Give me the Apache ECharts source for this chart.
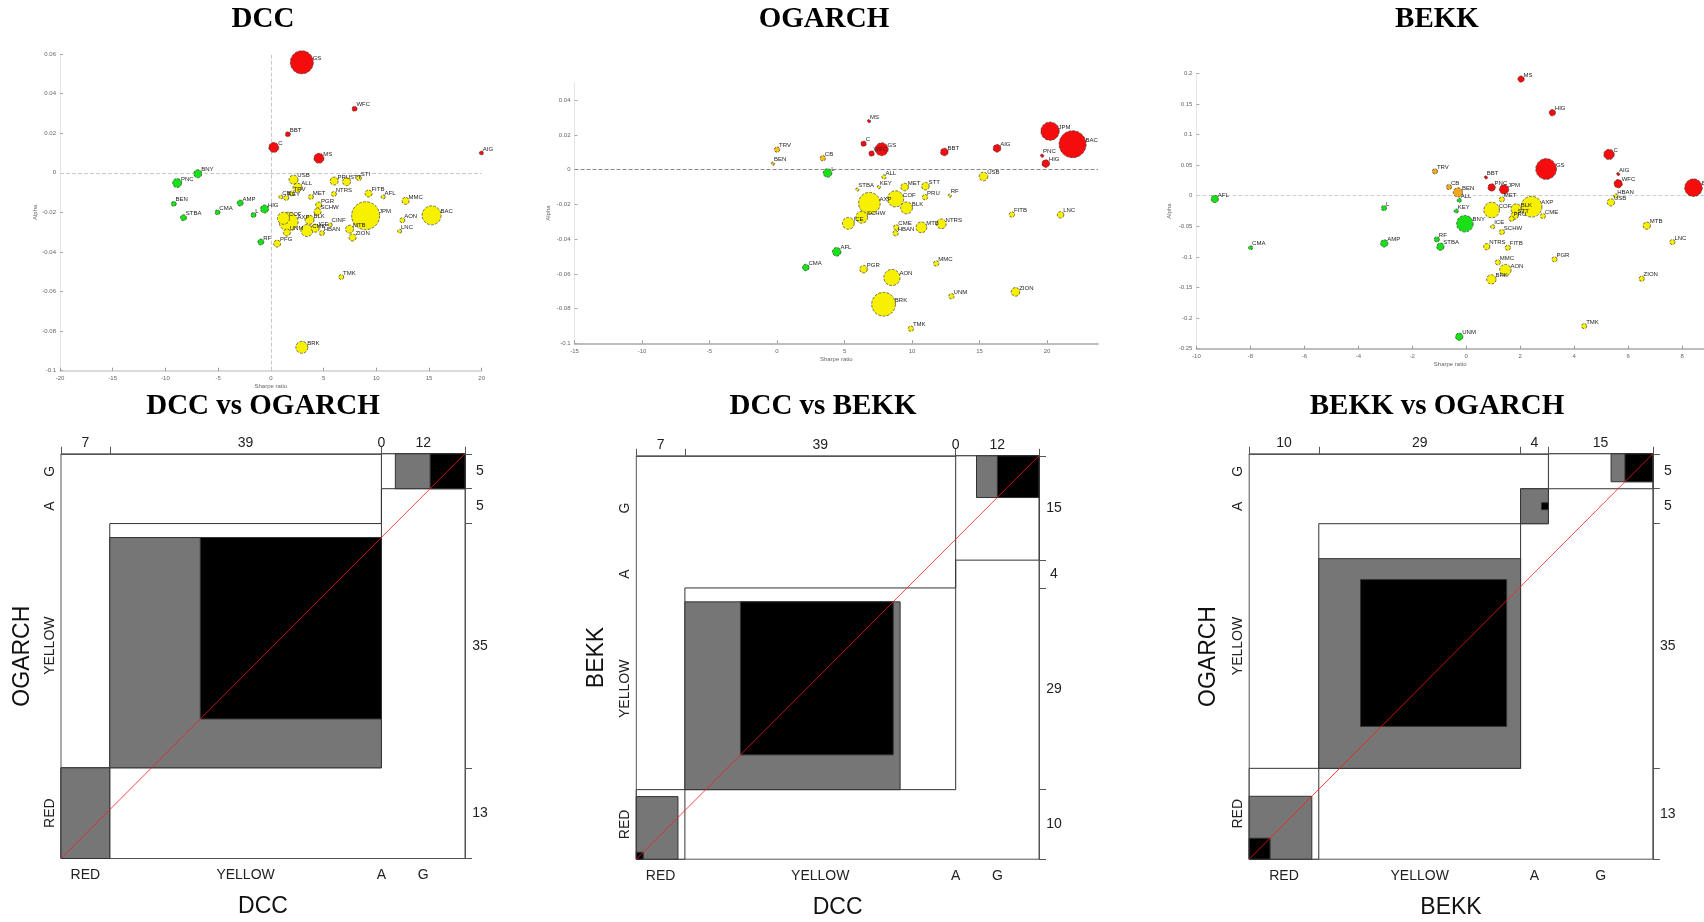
<!DOCTYPE html>
<html><head><meta charset="utf-8">
<script src="https://cdn.jsdelivr.net/npm/echarts@6/dist/echarts.min.js"></script>
<style>html,body{margin:0;padding:0;background:#fff}#c{width:1704px;height:922px}</style>
</head><body><div id="c"></div>
<script>
// ---------------- DATA: bubble plots  [x, y, size, label] ----------------
const dccRed = [[2.94,0.0558,23,'GS'],[7.94,0.0323,5,'WFC'],[1.61,0.0195,5,'BBT'],[0.28,0.0128,10,'C'],[4.56,0.0073,10,'MS'],[19.97,0.010,4,'AIG']];
const dccGreen = [[-6.93,-0.0005,8,'BNY'],[-8.89,-0.0052,9,'PNC'],[-9.21,-0.0157,5,'BEN'],[-8.29,-0.0227,6,'STBA'],[-5.06,-0.0200,5,'CMA'],[-2.91,-0.0153,6,'AMP'],[-1.65,-0.0213,5,'L'],[-0.60,-0.0183,8,'HIG'],[-0.95,-0.0350,6,'RF']];
const dccYellow = [[2.15,-0.0035,9,'USB'],[2.53,-0.0075,9,'ALL'],[1.99,-0.0105,5,'TRV'],[1.46,-0.0127,5,'KEY'],[0.95,-0.0122,4,'CB'],[3.80,-0.0122,5,'MET'],[6.01,-0.0042,8,'PRU'],[7.18,-0.0045,8,'STT'],[8.35,-0.0027,5,'STI'],[5.98,-0.0107,5,'NTRS'],[9.27,-0.0105,7,'FITB'],[10.66,-0.0122,4,'AFL'],[12.78,-0.0142,7,'MMC'],[8.99,-0.0217,28,'JPM'],[15.25,-0.0215,19,'BAC'],[12.47,-0.0240,5,'AON'],[12.22,-0.0295,4,'LNC'],[4.53,-0.0163,6,'PGR'],[4.43,-0.0197,7,'SCHW'],[1.68,-0.0247,19,'AXP'],[1.20,-0.0230,12,'COF'],[3.67,-0.0238,9,'BLK'],[3.42,-0.0292,12,'CME'],[4.21,-0.0280,8,'ICE'],[4.84,-0.0305,5,'HBAN'],[5.63,-0.0263,4,'CINF'],[7.47,-0.0285,8,'MTB'],[7.75,-0.0327,7,'ZION'],[1.52,-0.0302,7,'UNM'],[0.60,-0.0358,7,'PFG'],[6.68,-0.0527,5,'TMK'],[2.94,-0.0882,12,'BRK']];

const ogaRed = [[6.81,0.028,3,'MS'],[6.41,0.015,5,'C'],[7.00,0.0093,5,'WFC'],[7.75,0.0118,12,'GS'],[12.39,0.0102,7,'BBT'],[16.29,0.0123,7,'AIG'],[20.22,0.0222,17,'JPM'],[21.89,0.0147,25,'BAC'],[19.63,0.0081,3,'PNC'],[19.90,0.0035,7,'HIG']];
const ogaOrange = [[0.00,0.0116,5,'TRV'],[-0.30,0.0035,3,'BEN'],[3.39,0.0066,5,'CB']];
const ogaGreen = [[3.74,-0.0019,8,'L'],[4.42,-0.0473,8,'AFL'],[2.13,-0.0563,6,'CMA']];
const ogaYellow = [[7.92,-0.0042,4,'ALL'],[7.54,-0.0100,3,'KEY'],[5.95,-0.0114,3,'STBA'],[9.45,-0.0100,7,'MET'],[10.99,-0.0095,7,'STT'],[10.96,-0.0158,5,'PRU'],[12.79,-0.0149,3,'RF'],[15.29,-0.0039,8,'USB'],[6.84,-0.0193,20,'AXP'],[8.78,-0.0168,15,'COF'],[9.59,-0.0220,11,'BLK'],[6.27,-0.0274,11,'SCHW'],[5.28,-0.0309,11,'ICE'],[8.83,-0.0332,5,'CME'],[8.78,-0.0366,5,'HBAN'],[10.69,-0.0332,10,'MTB'],[12.17,-0.0312,9,'NTRS'],[17.39,-0.0258,5,'FITB'],[21.00,-0.0260,6,'LNC'],[11.79,-0.0540,5,'MMC'],[6.41,-0.0573,7,'PGR'],[8.51,-0.0621,15,'AON'],[7.89,-0.0775,22,'BRK'],[12.92,-0.0729,5,'UNM'],[17.66,-0.0704,8,'ZION'],[9.91,-0.0916,5,'TMK']];

const bekRed = [[2.03,0.1906,6,'MS'],[3.19,0.1356,6,'HIG'],[5.29,0.0675,10,'C'],[2.96,0.0436,20,'GS'],[5.63,0.0354,3,'AIG'],[5.63,0.0196,8,'WFC'],[0.73,0.0300,3,'BBT'],[0.94,0.0136,7,'PNC'],[1.40,0.0103,9,'JPM'],[8.42,0.0131,17,'BAC']];
const bekOrange = [[-1.16,0.0398,5,'TRV'],[-0.64,0.0142,5,'CB'],[-0.31,0.0054,9,'BEN']];
const bekGreen = [[-9.32,-0.0054,7,'AFL'],[-3.05,-0.0202,5,'L'],[-7.99,-0.0850,4,'CMA'],[-3.04,-0.0779,7,'AMP'],[-1.09,-0.0713,5,'RF'],[-0.96,-0.0833,7,'STBA'],[-0.05,-0.0458,16,'BNY'],[-0.37,-0.0250,4,'KEY'],[-0.26,-0.0076,4,'ALL'],[-0.26,-0.2304,7,'UNM']];
const bekYellow = [[0.94,-0.0234,15,'COF'],[1.32,-0.0060,5,'MET'],[1.85,-0.0218,10,'BLK'],[2.42,-0.0180,20,'AXP'],[1.79,-0.0327,7,'STT'],[1.68,-0.0376,5,'PRU'],[2.84,-0.0332,5,'CME'],[0.98,-0.0507,4,'ICE'],[1.32,-0.0594,5,'SCHW'],[0.76,-0.0833,6,'NTRS'],[1.54,-0.0850,5,'FITB'],[1.17,-0.1089,5,'MMC'],[1.45,-0.1215,11,'AON'],[0.93,-0.1367,9,'BRK'],[3.27,-0.1040,5,'PGR'],[5.36,-0.0109,7,'USB'],[5.54,-0.0005,4,'HBAN'],[6.69,-0.0490,7,'MTB'],[7.64,-0.0757,5,'LNC'],[6.50,-0.1356,5,'ZION'],[4.37,-0.2130,5,'TMK']];

// tick labels of the bubble plots
const dccXTicks = [-20,-15,-10,-5,0,5,10,15,20];
const dccYTicks = [-0.1,-0.08,-0.06,-0.04,-0.02,0,0.02,0.04,0.06];
const ogaXTicks = [-15,-10,-5,0,5,10,15,20];
const ogaYTicks = [-0.1,-0.08,-0.06,-0.04,-0.02,0,0.02,0.04];
const bekXTicks = [-10,-8,-6,-4,-2,0,2,4,6,8];
const bekYTicks = [-0.25,-0.2,-0.15,-0.1,-0.05,0,0.05,0.1,0.15,0.2];

// ---------------- DATA: agreement plots (counts) ----------------
const categories = ['RED','YELLOW','A','G'];
// DCC (cols) vs OGARCH (rows)
const dvoCol = [7,39,0,12];
const dvoRow = [13,35,5,5];
const dvoPartial = [[0,0,7,13],[7,13,46,46],null,[48,53,58,58]];
const dvoExact = [null,[20,20,46,46],null,[53,53,58,58]];
// DCC (cols) vs BEKK (rows)
const dvbCol = [7,39,0,12];
const dvbRow = [10,29,4,15];
const dvbPartial = [[0,0,6,9],[7,10,38,37],null,[49,52,58,58]];
const dvbExact = [[0,0,1,1],[15,15,37,37],null,[52,52,58,58]];
// BEKK (cols) vs OGARCH (rows)
const bvoCol = [10,29,4,15];
const bvoRow = [13,35,5,5];
const bvoPartial = [[0,0,9,9],[10,13,39,43],[39,48,43,53],[52,54,58,58]];
const bvoExact = [[0,0,3,3],[16,19,37,40],[42,50,43,51],[54,54,58,58]];

// ---------------- build ----------------
const chart = echarts.init(document.getElementById('c'), null, {renderer:'canvas'});
const RED='#f50d0d', GREEN='#19e019', YELLOW='#f7f000', ORANGE='#f2a81d';

const grids = [], xAxes = [], yAxes = [], series = [];

function bubblePanel(idx, g, xr, yr, xt, yt, sets, zeroX, dashColor, axisColor, sizeScale, yNameGap){
  grids.push(Object.assign({outerBoundsMode:'none', containLabel:false}, g));
  const lab = {fontSize:6, color:'#666', fontFamily:'Arial'};
  xAxes.push({gridIndex:idx, type:'value', min:xr[0], max:xr[1], splitLine:{show:false},
    axisLine:{show:true, onZero:false, lineStyle:{color:axisColor, width:1.5}},
    axisTick:{show:true, inside:true, length:3, customValues:xt, lineStyle:{color:'#999'}},
    axisLabel:Object.assign({customValues:xt, margin:5}, lab),
    name:'Sharpe ratio', nameLocation:'middle', nameGap:13, nameTextStyle:{fontSize:6, color:'#666'}});
  yAxes.push({gridIndex:idx, type:'value', min:yr[0], max:yr[1], splitLine:{show:false},
    axisLine:{show:true, onZero:false, lineStyle:{color:'#e4e4e4', width:1}},
    axisTick:{show:true, inside:true, length:3, customValues:yt, lineStyle:{color:'#aaa'}},
    axisLabel:Object.assign({customValues:yt, margin:4}, lab),
    name:'Alpha', nameLocation:'middle', nameGap:yNameGap, nameTextStyle:{fontSize:6, color:'#666'}});
  sets.forEach((s, k) => {
    const ser = {type:'scatter', xAxisIndex:idx, yAxisIndex:idx, data:s[0], clip:false,
      symbolSize: d => d[2] * sizeScale,
      itemStyle:{color:s[1], borderColor:'#3a3a3a', borderWidth:0.7, borderType:'dashed', opacity:1},
      label:{show:true, position:'right', distance:0, offset:[-1,-4], fontSize:6, color:'#222',
        fontFamily:'Arial', formatter: p => p.data[3]},
      z:3};
    if (k === 0) {
      const ml = [{yAxis:0}];
      if (zeroX) ml.push({xAxis:0});
      ser.markLine = {silent:true, symbol:'none', label:{show:false}, animation:false,
        lineStyle:{type:'dashed', color:dashColor, width:1}, data:ml, z:1};
    }
    series.push(ser);
  });
}

bubblePanel(0, {left:60, top:54, width:421.7, height:316.7}, [-20,20], [-0.1,0.06], dccXTicks, dccYTicks,
  [[dccYellow,YELLOW],[dccGreen,GREEN],[dccRed,RED]], true, '#c8c8c8', '#d0d0d0', 1, 20);
bubblePanel(1, {left:574.5, top:82.9, width:523.5, height:260.4}, [-15,23.77], [-0.1,0.05], ogaXTicks, ogaYTicks,
  [[ogaYellow,YELLOW],[ogaGreen,GREEN],[ogaOrange,'#f3c21a'],[ogaRed,RED]], false, '#8a8a8a', '#a8a8a8', 1.08, 23);
bubblePanel(2, {left:1196.4, top:73.3, width:507.6, height:275.4}, [-10,8.81], [-0.25,0.2], bekXTicks, bekYTicks,
  [[bekYellow,YELLOW],[bekGreen,GREEN],[bekOrange,ORANGE],[bekRed,RED]], false, '#cfcfcf', '#a8a8a8', 1.04, 24);

function cumsum(a){ const r=[0]; a.forEach(v=>r.push(r[r.length-1]+v)); return r; }
function centers(c){ const r=[]; for(let i=0;i<c.length-1;i++) r.push((c[i]+c[i+1])/2); return r; }
function lookup(vals, labels){ return v => { const i = vals.findIndex(c => Math.abs(c-v) < 1e-6); return i>=0 ? String(labels[i]) : ''; }; }

function agreePanel(k, g, colTot, rowTot, partial, exact, xName, yName, yGap){
  const gi = 3 + k;
  grids.push(Object.assign({outerBoundsMode:'none', containLabel:false, show:true, borderColor:'#555', borderWidth:1, backgroundColor:'transparent'}, g));
  const cx = cumsum(colTot), cy = cumsum(rowTot);
  const N = cx[cx.length-1];
  const ccx = centers(cx), ccy = centers(cy);
  const txt = {fontSize:14, color:'#222', fontFamily:'Arial'};
  const xTop = xAxes.length;
  xAxes.push({gridIndex:gi, type:'value', position:'top', min:0, max:N, splitLine:{show:false},
    axisLine:{show:true, onZero:false, lineStyle:{color:'#555', width:1}},
    axisTick:{show:true, length:7, customValues:cx, lineStyle:{color:'#555'}},
    axisLabel:Object.assign({customValues:ccx, margin:4, formatter:lookup(ccx,colTot)}, txt)});
  xAxes.push({gridIndex:gi, type:'value', position:'bottom', min:0, max:N, splitLine:{show:false},
    axisLine:{show:false, onZero:false}, axisTick:{show:false},
    axisLabel:Object.assign({customValues:ccx, margin:10, formatter:lookup(ccx,categories)}, txt),
    name:xName, nameLocation:'middle', nameGap:37, nameTextStyle:{fontSize:23, color:'#111', fontFamily:'Arial'}});
  const yRight = yAxes.length;
  yAxes.push({gridIndex:gi, type:'value', position:'right', min:0, max:N, splitLine:{show:false},
    axisLine:{show:true, onZero:false, lineStyle:{color:'#555', width:1}},
    axisTick:{show:true, length:7, customValues:cy, lineStyle:{color:'#555'}},
    axisLabel:Object.assign({customValues:ccy, margin:15, align:'center', formatter:lookup(ccy,rowTot)}, txt)});
  yAxes.push({gridIndex:gi, type:'value', position:'left', min:0, max:N, splitLine:{show:false},
    axisLine:{show:false, onZero:false}, axisTick:{show:false},
    axisLabel:Object.assign({customValues:ccy, margin:4, rotate:90, formatter:lookup(ccy,categories)}, txt),
    name:yName, nameLocation:'middle', nameGap:yGap, nameTextStyle:{fontSize:23, color:'#111', fontFamily:'Arial'}});
  const rects = [];
  for (let i=0;i<categories.length;i++){
    rects.push([cx[i], cy[i], cx[i+1], cy[i+1], 0]);
    if (partial[i]) rects.push(partial[i].concat([1]));
    if (exact[i]) rects.push(exact[i].concat([2]));
  }
  const fills = ['#ffffff','#767676','#000000'];
  series.push({type:'custom', xAxisIndex:xTop, yAxisIndex:yRight, data:rects, clip:false, silent:true, z:2,
    renderItem:(params, api) => {
      const p0 = api.coord([api.value(0), api.value(3)]);
      const p1 = api.coord([api.value(2), api.value(1)]);
      return {type:'rect', shape:{x:p0[0], y:p0[1], width:p1[0]-p0[0], height:p1[1]-p0[1]},
        style:{fill:fills[api.value(4)], stroke:'#333', lineWidth:1}};
    }});
  series.push({type:'line', xAxisIndex:xTop, yAxisIndex:yRight, data:[[0,0],[N,N]], symbol:'none', silent:true, z:5,
    lineStyle:{color:'#ff1a1a', width:0.8}});
}

agreePanel(0, {left:61, top:453.8, width:404, height:404.7}, dvoCol, dvoRow, dvoPartial, dvoExact, 'DCC', 'OGARCH', 27);
agreePanel(1, {left:636.3, top:455.8, width:402.7, height:403.4}, dvbCol, dvbRow, dvbPartial, dvbExact, 'DCC', 'BEKK', 28);
agreePanel(2, {left:1249.2, top:453.8, width:403.6, height:405.4}, bvoCol, bvoRow, bvoPartial, bvoExact, 'BEKK', 'OGARCH', 29);

const titleFont = 'bold 29px "Liberation Serif", "Times New Roman", serif';
const titles = [['DCC',263,20],['OGARCH',824,20],['BEKK',1437,20],['DCC vs OGARCH',263,407],['DCC vs BEKK',823,407],['BEKK vs OGARCH',1437,407]];

chart.setOption({
  animation:false,
  backgroundColor:'#ffffff',
  grid:grids, xAxis:xAxes, yAxis:yAxes, series:series,
  graphic: titles.map(t => ({type:'text', x:t[1], y:t[2], z:10,
    style:{text:t[0], font:titleFont, fill:'#000', textAlign:'center', textVerticalAlign:'middle'}}))
});
</script></body></html>
